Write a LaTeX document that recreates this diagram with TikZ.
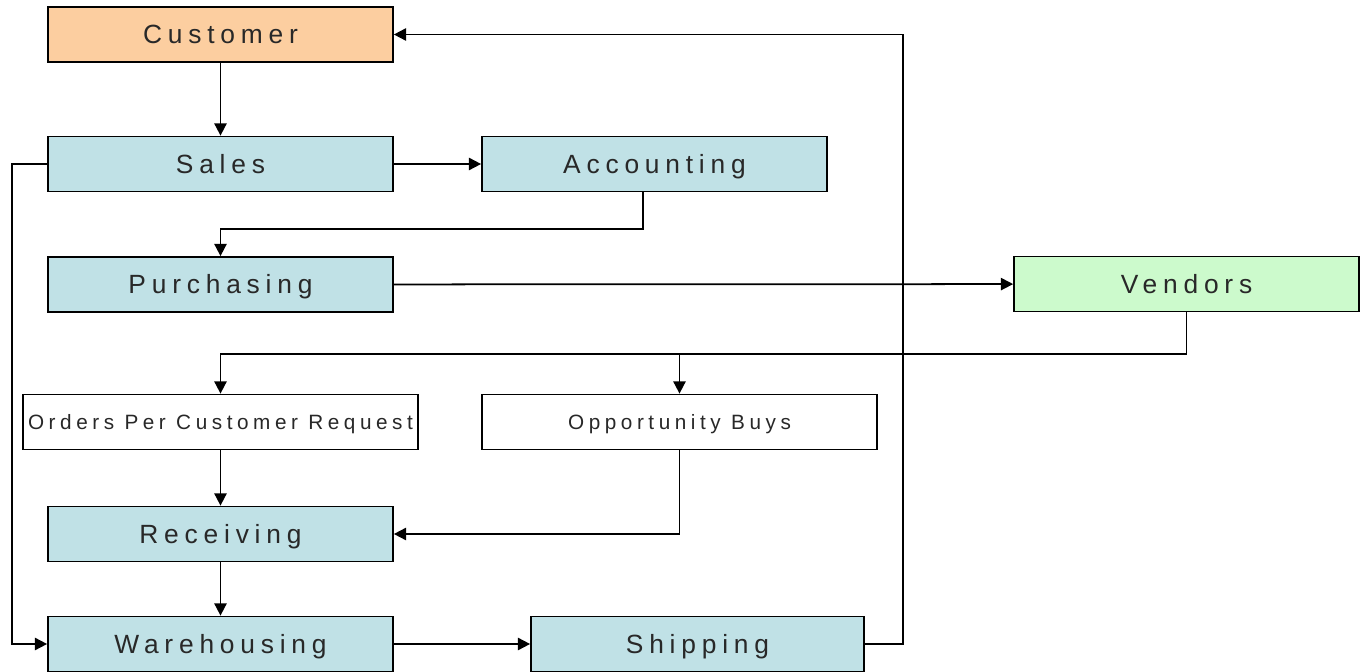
\documentclass[tikz,border=0pt]{standalone}
\usepackage{fontspec}
\usepackage{xcolor}
\usepackage{tikz}
\usetikzlibrary{
    positioning,
    arrows.meta
}
\newfontfamily\boxfont[LetterSpace=22]{Liberation Sans}
\definecolor{fillPeach}{RGB}{252, 206, 160}
\definecolor{fillBlue}{RGB}{192, 225, 230}
\definecolor{fillGreen}{RGB}{204, 250, 204}
\definecolor{textGray}{RGB}{40, 40, 40}

\tikzset{
    box/.style={draw, line width=1pt, rectangle, minimum width=6.9cm, minimum height=1.1cm,
        inner sep=0pt, text height=10.7pt, text depth=0pt, text=textGray,
        font=\boxfont\fontsize{15}{18}\selectfont},
    smallbox/.style={box, minimum width=7.9cm, text height=8.4pt,
        font=\boxfont\fontsize{11.8}{14}\selectfont},
    arr/.style={line width=1pt, -{Triangle[length=7pt, width=7pt]}},
}

\begin{document}
\begin{tikzpicture}[x=0.02cm, y=-0.02cm]
            % 枠
            \useasboundingbox (0,0) rectangle (1367,672);

            % 箱
            \node[box, fill=fillPeach] (cust) at (220.5, 34.5) {Customer};
            \node[box, fill=fillBlue] (sales) at (220.5, 164) {Sales};
            \node[box, fill=fillBlue] (acct) at (654.5, 164) {Accounting};
            \node[box, fill=fillBlue] (purch) at (220.5, 284.5) {Purchasing};
            \node[box, fill=fillGreen] (vend) at (1186.5, 284) {Vendors};
            \node[smallbox, fill=white] (orders) at (220.5, 422) {Orders Per Customer Request};
            \node[smallbox, fill=white] (opp) at (679.5, 422) {Opportunity Buys};
            \node[box, fill=fillBlue] (recv) at (220.5, 534) {Receiving};
            \node[box, fill=fillBlue] (ware) at (220.5, 644) {Warehousing};
            \node[box, fill=fillBlue, minimum width=6.66cm] (ship) at (697.5, 644) {Shipping};

            % 折れ点
            \coordinate (abend) at (643, 229);
            \coordinate (vbus) at (0, 354);
            \coordinate (lbus) at (12, 0);
            \coordinate (rbus) at (903, 0);

            % 矢印
            \draw[arr] (cust) -- (sales);
            \draw[arr] (sales) -- (acct);
            \draw[arr] (acct.south -| abend) -- (abend) -| (purch.north);
            \draw[arr] (purch) -- (vend);
            \draw[arr] (vend.south) -- (vend.south |- vbus) -| (orders.north);
            \draw[arr] (opp.north |- vbus) -- (opp.north);
            \draw[arr] (orders) -- (recv);
            \draw[arr] (opp.south) |- (recv.east);
            \draw[arr] (recv) -- (ware);
            \draw[arr] (sales.west) -- (sales.west -| lbus) |- (ware.west);
            \draw[arr] (ware) -- (ship);
            \draw[arr] (ship.east) -- (ship.east -| rbus) |- (cust.east);
        \end{tikzpicture}
\end{document}
